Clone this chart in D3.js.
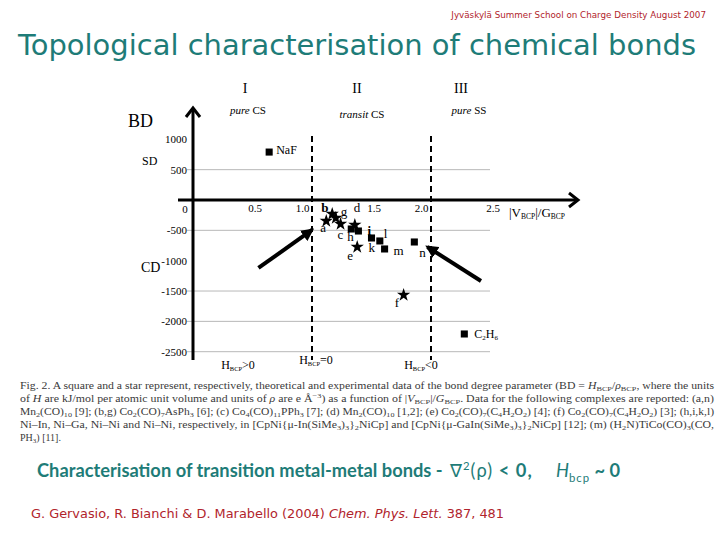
<!DOCTYPE html>
<html><head><meta charset="utf-8">
<script src="https://cdn.jsdelivr.net/npm/d3@7"></script>
<style>body{margin:0;background:#fff}svg{display:block}</style>
</head><body>
<svg id="c" width="720" height="540"></svg>
<script>
// ---- data ----
const xTicks = [0.5, 1.0, 1.5, 2.0, 2.5];
const xTickLabels = ["0.5", "1.0", "1.5", "2.0", "2.5"];
const yTicks = [1000, 500, -500, -1000, -1500, -2000, -2500];
const yTickLabels = ["1000", "500", "-500", "-1000", "-1500", "-2000", "-2500"];
const gridValues = [500, -500, -1500, -2000, -2500];
const regionBounds = [1.0, 2.0];
const squareLabels = ["NaF", "h", "i", "k", "l", "m", "n", "C2H6"];
const squareX = [0.64, 1.33, 1.39, 1.50, 1.57, 1.61, 1.86, 2.28];
const squareY = [790, -478, -511, -626, -675, -807, -692, -2208];
const starLabels = ["a", "b", "g", "c", "d", "e", "f"];
const starX = [1.12, 1.17, 1.20, 1.24, 1.36, 1.38, 1.77];
const starY = [-346, -231, -297, -395, -412, -774, -1565];
const arrowFrom = [[0.55, -1120], [2.42, -1334]];
const arrowTo = [[1.0, -494], [1.97, -774]];

// ---- layout ----
const svg = d3.select("#c");
const x = d3.scaleLinear().domain([0, 2.5]).range([193, 490.5]);
const y = d3.scaleLinear().domain([0, -2500]).range([200, 351.7]);
const serif = "'Liberation Serif','DejaVu Serif',serif";
const sans = "'DejaVu Sans','Noto Sans',sans-serif";
const teal = "#1e7c78", red = "#b1242c";

// fit a text element's font size so that its natural width equals w
function fitWidth(t, base, w) {
  t.attr("font-size", base);
  const L = t.node().getComputedTextLength();
  const fs = base * w / L;
  t.attr("font-size", fs);
  return fs;
}

// header
const hd = svg.append("text").attr("x", 706).attr("y", 18).attr("text-anchor", "end")
  .attr("font-family", sans).attr("fill", red)
  .text("Jyväskylä Summer School  on Charge Density August 2007");
fitWidth(hd, 10, 255);
// title
svg.append("text").attr("x", 18).attr("y", 55)
  .attr("font-family", sans).attr("font-size", 29).attr("fill", teal)
  .attr("textLength", 678).attr("lengthAdjust", "spacingAndGlyphs")
  .text("Topological characterisation of chemical bonds");

const g = svg.append("g");
// gridlines
g.selectAll("line.grid").data(gridValues).join("line").attr("class", "grid")
  .attr("x1", 187).attr("x2", 490).attr("y1", d => y(d)).attr("y2", d => y(d))
  .attr("stroke", "#b8b8b8").attr("stroke-width", 1);

// dashed region bounds
g.selectAll("line.bound").data(regionBounds).join("line").attr("class", "bound")
  .attr("x1", d => x(d)).attr("x2", d => x(d)).attr("y1", 136).attr("y2", 360)
  .attr("stroke", "#000").attr("stroke-width", 2).attr("stroke-dasharray", "6,4");

// y axis ticks
const ya = d3.axisLeft(y).tickValues(yTicks).tickSize(0).tickPadding(0)
  .tickFormat((d, i) => yTickLabels[i]);
const yg = g.append("g").attr("transform", "translate(187,0)").call(ya);
yg.select(".domain").remove();
yg.selectAll("text").attr("font-family", serif).attr("font-size", 11).attr("fill", "#000");

// x axis ticks
const xa = d3.axisBottom(x).tickValues(xTicks).tickSize(0).tickPadding(0)
  .tickFormat((d, i) => xTickLabels[i]);
const xg = g.append("g").attr("transform", "translate(0,204)").call(xa);
xg.select(".domain").remove();
xg.selectAll("text").attr("font-family", serif).attr("font-size", 11).attr("fill", "#000")
  .attr("dx", d => regionBounds.includes(d) ? -10 : 2);
g.append("text").attr("x", 185).attr("y", 213).attr("text-anchor", "middle")
  .attr("font-family", serif).attr("font-size", 11).text("0");

// main axes
g.append("line").attr("x1", 178).attr("x2", 577).attr("y1", y(0)).attr("y2", y(0))
  .attr("stroke", "#000").attr("stroke-width", 3);
g.append("line").attr("x1", x(0)).attr("x2", x(0)).attr("y1", 108).attr("y2", 360)
  .attr("stroke", "#000").attr("stroke-width", 3);
g.append("path").attr("d", `M${x(0)-7},${117} L${x(0)},${108} L${x(0)+7},${117}`)
  .attr("fill", "none").attr("stroke", "#000").attr("stroke-width", 3);
g.append("path").attr("d", `M569,${y(0)-7} L578,${y(0)} L569,${y(0)+7}`)
  .attr("fill", "none").attr("stroke", "#000").attr("stroke-width", 3);

// axis labels
g.append("text").attr("x", 128).attr("y", 127).attr("font-family", serif).attr("font-size", 18).text("BD");
g.append("text").attr("x", 142).attr("y", 165).attr("font-family", serif).attr("font-size", 12).text("SD");
g.append("text").attr("x", 141).attr("y", 272).attr("font-family", serif).attr("font-size", 14).text("CD");
const xl = g.append("text").attr("x", 509).attr("y", 217).attr("font-family", serif).attr("font-size", 13);
xl.append("tspan").text("|V");
xl.append("tspan").attr("font-size", 7.5).attr("dy", 2).text("BCP");
xl.append("tspan").attr("dy", -2).text("|/G");
xl.append("tspan").attr("font-size", 7.5).attr("dy", 2).text("BCP");

// region headers
const romans = ["I", "II", "III"];
const romanX = [245, 357, 461];
g.selectAll("text.rom").data(romans).join("text").attr("class", "rom")
  .attr("x", (d, i) => romanX[i]).attr("y", 93).attr("text-anchor", "middle")
  .attr("font-family", serif).attr("font-size", 14).text(d => d);
const regionWord = ["pure", "transit", "pure"];
const regionType = ["CS", "CS", "SS"];
const regionX = [248, 362, 469];
const regionY = [114, 118, 114];
regionWord.forEach((w, i) => {
  const t = g.append("text").attr("x", regionX[i]).attr("y", regionY[i]).attr("text-anchor", "middle")
    .attr("font-family", serif).attr("font-size", 11);
  t.append("tspan").attr("font-style", "italic").text(w + " ");
  t.append("tspan").text(regionType[i]);
});

// bottom H labels
const hSigns = [">0", "=0", "<0"];
const hX = [238, 316, 421];
const hY = [369, 364, 369];
hSigns.forEach((s, i) => {
  const t = g.append("text").attr("x", hX[i]).attr("y", hY[i]).attr("text-anchor", "middle")
    .attr("font-family", serif).attr("font-size", 12);
  t.append("tspan").text("H");
  t.append("tspan").attr("font-size", 6.5).attr("dy", 2).text("BCP");
  t.append("tspan").attr("dy", -2).text(s);
});

// arrows
svg.append("defs").append("marker").attr("id", "ah").attr("viewBox", "0 0 10 10")
  .attr("refX", 8).attr("refY", 5).attr("markerWidth", 3.2).attr("markerHeight", 3.2)
  .attr("orient", "auto").append("path").attr("d", "M0,0 L10,5 L0,10 z").attr("fill", "#000");
g.selectAll("line.arr").data(arrowFrom).join("line").attr("class", "arr")
  .attr("x1", d => x(d[0])).attr("y1", d => y(d[1]))
  .attr("x2", (d, i) => x(arrowTo[i][0])).attr("y2", (d, i) => y(arrowTo[i][1]))
  .attr("stroke", "#000").attr("stroke-width", 4).attr("marker-end", "url(#ah)");

// points
const squares = squareLabels.map((l, i) => ({l, x: squareX[i], y: squareY[i]}));
const stars = starLabels.map((l, i) => ({l, x: starX[i], y: starY[i]}));
g.selectAll("path.sq").data(squares).join("path").attr("class", "sq")
  .attr("transform", d => `translate(${x(d.x)},${y(d.y)})`)
  .attr("d", d3.symbol(d3.symbolSquare, 50)).attr("fill", "#000");
g.selectAll("path.st").data(stars).join("path").attr("class", "st")
  .attr("transform", d => `translate(${x(d.x)},${y(d.y)})`)
  .attr("d", d3.symbol(d3.symbolStar, 55)).attr("fill", "#000");

// point labels (offsets in px)
const labelOffset = {
  NaF: [7, 2], h: [-4, 12], i: [9, 4], k: [-3, 14], l: [4, -3], m: [9, 6], n: [5, 15],
  a: [-6, 11], b: [-11, -2], g: [5, -2], c: [-3, 15], d: [-1, -13], e: [-10, 13], f: [-9, 12]
};
const allPts = squares.concat(stars).filter(d => d.l !== "C2H6");
g.selectAll("text.pl").data(allPts).join("text").attr("class", "pl")
  .attr("x", d => x(d.x) + labelOffset[d.l][0]).attr("y", d => y(d.y) + labelOffset[d.l][1])
  .attr("font-family", serif).attr("font-size", d => d.l === "NaF" ? 12 : 13)
  .attr("font-weight", d => d.l === "b" || d.l === "i" ? "bold" : "normal")
  .text(d => d.l);
const c2 = squares.find(d => d.l === "C2H6");
const ct = g.append("text").attr("x", x(c2.x) + 10).attr("y", y(c2.y) + 4)
  .attr("font-family", serif).attr("font-size", 12);
ct.append("tspan").text("C");
ct.append("tspan").attr("font-size", 7).attr("dy", 2).text("2");
ct.append("tspan").attr("dy", -2).text("H");
ct.append("tspan").attr("font-size", 7).attr("dy", 2).text("6");

// caption
const capLines = [
  [["Fig. 2. A square and a star represent, respectively, theoretical and experimental data of the bond degree parameter (BD = "], ["H", "i"], ["BCP", "s"], ["/"], ["ρ", "i"], ["BCP", "s"], [", where the units"]],
  [["of "], ["H", "i"], [" are kJ/mol per atomic unit volume and units of "], ["ρ", "i"], [" are e Å"], ["−3", "p"], [") as a function of |"], ["V", "i"], ["BCP", "s"], ["|/"], ["G", "i"], ["BCP", "s"], [". Data for the following complexes are reported: (a,n)"]],
  [["Mn"], ["2", "s"], ["(CO)"], ["10", "s"], [" [9]; (b,g) Co"], ["2", "s"], ["(CO)"], ["7", "s"], ["AsPh"], ["3", "s"], [" [6]; (c) Co"], ["4", "s"], ["(CO)"], ["11", "s"], ["PPh"], ["3", "s"], [" [7]; (d) Mn"], ["2", "s"], ["(CO)"], ["10", "s"], [" [1,2]; (e) Co"], ["2", "s"], ["(CO)"], ["7", "s"], ["(C"], ["4", "s"], ["H"], ["2", "s"], ["O"], ["2", "s"], [") [4]; (f) Co"], ["2", "s"], ["(CO)"], ["7", "s"], ["(C"], ["4", "s"], ["H"], ["2", "s"], ["O"], ["2", "s"], [") [3]; (h,i,k,l)"]],
  [["Ni–In, Ni–Ga, Ni–Ni and Ni–Ni, respectively, in [CpNi{μ-In(SiMe"], ["3", "s"], [")"], ["3", "s"], ["}"], ["2", "s"], ["NiCp] and [CpNi{μ-GaIn(SiMe"], ["3", "s"], [")"], ["3", "s"], ["}"], ["2", "s"], ["NiCp] [12]; (m) (H"], ["2", "s"], ["N)TiCo(CO)"], ["3", "s"], ["(CO,"]],
  [["PH"], ["3", "s"], [") [11]."]]
];
const capY = [389, 402, 415, 428, 441];
capLines.forEach((parts, li) => {
  const t = svg.append("text").attr("x", 20).attr("y", capY[li])
    .attr("font-family", serif).attr("font-size", 10).attr("fill", "#3a3a3a");
  if (li < 4) t.attr("textLength", 694).attr("lengthAdjust", "spacingAndGlyphs");
  let shift = 0;
  parts.forEach(([s, k]) => {
    const sp = t.append("tspan").text(s);
    let target = 0;
    if (k === "i") sp.attr("font-style", "italic");
    if (k === "s") { sp.attr("font-size", 7); target = 2; }
    if (k === "p") { sp.attr("font-size", 7); target = -4; }
    if (target !== shift) { sp.attr("dy", target - shift); shift = target; }
  });
});

// subtitle
const subFont = "Lato,'Open Sans',sans-serif";
const s1 = svg.append("text").attr("x", 37).attr("y", 477).attr("font-family", subFont)
  .attr("font-weight", "bold").attr("fill", teal)
  .text("Characterisation of transition metal-metal bonds -");
const mainFs = fitWidth(s1, 16, 406);
const st = svg.append("text").attr("x", 450).attr("y", 477).attr("font-family", subFont)
  .attr("fill", teal).attr("font-size", mainFs).attr("letter-spacing", 1);
st.append("tspan").text("∇");
st.append("tspan").attr("font-size", "0.62em").attr("dy", "-0.6em").text("2");
st.append("tspan").attr("dy", "0.372em").text("(ρ) ");
st.append("tspan").attr("font-weight", "bold").text("< 0,");
const st2 = svg.append("text").attr("x", 556).attr("y", 477).attr("font-family", subFont)
  .attr("fill", teal).attr("font-size", mainFs);
st2.append("tspan").attr("font-style", "italic").text("H");
st2.append("tspan").attr("font-size", "0.62em").attr("dy", "0.4em").attr("letter-spacing", 1).text("bcp");
st2.append("tspan").attr("dy", "-0.248em").attr("font-weight", "bold").text(" ~ 0");

// citation
const ci = svg.append("text").attr("x", 31).attr("y", 518).attr("font-family", sans)
  .attr("font-size", 13).attr("fill", red)
  .attr("textLength", 473).attr("lengthAdjust", "spacingAndGlyphs");
ci.append("tspan").text("G. Gervasio, R. Bianchi & D. Marabello (2004) ");
ci.append("tspan").attr("font-style", "italic").text("Chem. Phys. Lett.");
ci.append("tspan").text("  387, 481");
</script>
</body></html>
